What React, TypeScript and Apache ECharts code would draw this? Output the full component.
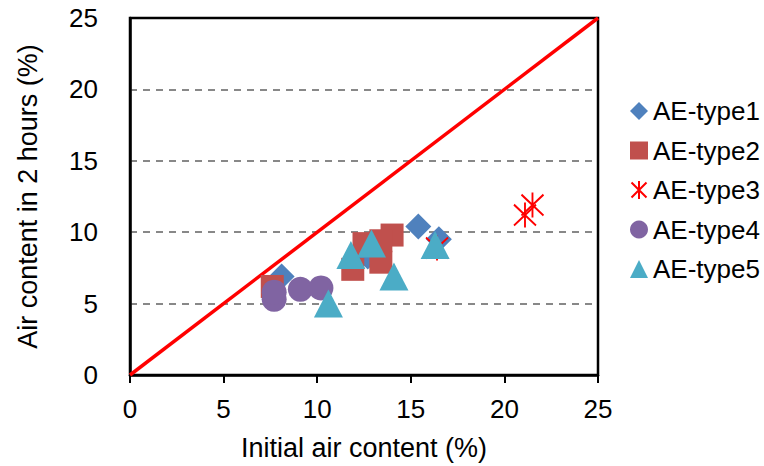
import React, { useEffect, useRef } from "react";
import * as echarts from "echarts";

const seriesNames = ["AE-type1", "AE-type2", "AE-type3", "AE-type4", "AE-type5"];
const type1: number[][] = [[15.4, 10.4], [16.5, 9.5], [8.1, 6.9], [12.7, 8.3]];
const type2: number[][] = [[14.0, 9.8], [13.4, 9.4], [12.5, 9.2], [13.4, 7.9], [11.9, 7.4], [7.6, 6.2]];
const type3: number[][] = [[21.1, 11.2], [21.5, 11.9], [16.4, 8.9]];
const type4: number[][] = [[7.7, 5.3], [7.7, 5.8], [9.1, 6.0], [10.2, 6.1]];
const type5: number[][] = [[10.6, 5.0], [11.8, 8.4], [12.9, 9.2], [14.1, 6.9], [16.3, 9.1]];
const refLine: number[][] = [[0, 0], [25, 25]];
const colors = ["#4F81BD", "#C0504D", "#FF0000", "#8064A2", "#4BACC6"];

const FONT = "Liberation Sans, Arial, sans-serif";
const ASTERISK = "path://M0,0L10,10M10,0L0,10M5,-1L5,11";

export default function App() {
  const ref = useRef<HTMLDivElement>(null);
  useEffect(() => {
    if (!ref.current) return;
    const chart = echarts.init(ref.current, null, { renderer: "svg" });
    const datasets = [type1, type2, type3, type4, type5];
    const symbols = ["diamond", "rect", ASTERISK, "circle", "triangle"];
    const sizes: any[] = [[26, 26], [23, 23], [22, 25], 25, [29, 28]];
    const scatter = datasets.map((d, i) => ({
      name: seriesNames[i],
      type: "scatter",
      data: d,
      symbol: symbols[i],
      symbolSize: sizes[i],
      itemStyle:
        i === 2
          ? { color: "rgba(0,0,0,0)", borderColor: colors[i], borderWidth: 2, opacity: 1 }
          : { color: colors[i], opacity: 1 },
      z: 3,
    }));
    chart.setOption({
      animation: false,
      grid: {
        left: 130,
        right: 166,
        top: 18,
        bottom: 91,
        show: true,
        borderColor: "#000",
        borderWidth: 2.5,
      },
      legend: {
        orient: "vertical",
        left: 625,
        top: 93,
        itemWidth: 18,
        itemHeight: 18,
        itemGap: 13.5,
        data: seriesNames,
        textStyle: { fontFamily: FONT, fontSize: 26, color: "#000" },
      },
      xAxis: {
        type: "value",
        min: 0,
        max: 25,
        interval: 5,
        name: "Initial air content (%)",
        nameLocation: "middle",
        nameGap: 59,
        nameTextStyle: { fontFamily: FONT, fontSize: 27, color: "#000" },
        axisLine: { show: true, lineStyle: { color: "#000", width: 2.5 } },
        axisTick: { show: true, length: 8, lineStyle: { color: "#000", width: 2 } },
        axisLabel: { fontFamily: FONT, fontSize: 26, color: "#000", margin: 21 },
        splitLine: { show: false },
      },
      yAxis: {
        type: "value",
        min: 0,
        max: 25,
        interval: 5,
        name: "Air content in 2 hours (%)",
        nameLocation: "middle",
        nameGap: 89,
        nameTextStyle: { fontFamily: FONT, fontSize: 27, color: "#000" },
        axisLine: { show: true, lineStyle: { color: "#000", width: 2.5 } },
        axisTick: { show: false },
        axisLabel: { fontFamily: FONT, fontSize: 26, color: "#000", margin: 32 },
        splitLine: {
          show: true,
          showMinLine: false,
          showMaxLine: false,
          lineStyle: { color: "#888", width: 2, type: [7, 6] },
        },
      },
      series: [
        {
          name: "ref",
          type: "line",
          data: refLine,
          showSymbol: false,
          lineStyle: { color: "#FF0000", width: 3.5 },
          z: 2,
          silent: true,
        },
        ...scatter,
      ],
    });
    return () => chart.dispose();
  }, []);
  return <div ref={ref} style={{ width: 764, height: 466, position: "absolute", left: 0, top: 0 }} />;
}
